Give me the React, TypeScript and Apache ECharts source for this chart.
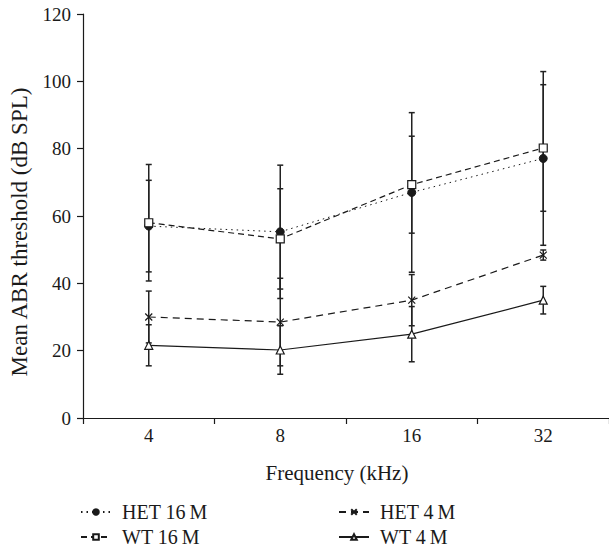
import React, { useEffect, useRef } from "react";
import * as echarts from "echarts";

const categories = ["4", "8", "16", "32"];
const het16Mean = [57, 55.3, 67, 77.1];
const het16Err = [13.6, 19.8, 23.7, 25.8];
const wt16Mean = [58, 53.2, 69.3, 80.2];
const wt16Err = [17.3, 14.9, 14.4, 18.8];
const het4Mean = [30, 28.5, 35, 48.4];
const het4Err = [7.7, 13, 7.6, 1.5];
const wt4Mean = [21.6, 20.2, 24.9, 35];
const wt4Err = [6.1, 7.2, 8.2, 4.1];
const yTicks = [0, 20, 40, 60, 80, 100, 120];
const seriesNames = ["HET 16\u2009M", "WT 16\u2009M", "HET 4\u2009M", "WT 4\u2009M"];

const FONT = "Liberation Serif";
const INK = "#1a1a1a";

function errData(mean: number[], err: number[]) {
  return mean.map((m, i) => [i, m - err[i], m + err[i]]);
}

function errSeries(mean: number[], err: number[]) {
  return {
    type: "custom",
    z: 1,
    silent: true,
    data: errData(mean, err),
    renderItem: (params: any, api: any) => {
      const x = api.value(0);
      const lo = api.coord([x, api.value(1)]);
      const hi = api.coord([x, api.value(2)]);
      const w = 3;
      const st = { stroke: "#222", lineWidth: 1.5 };
      return {
        type: "group",
        children: [
          { type: "line", shape: { x1: lo[0], y1: lo[1], x2: hi[0], y2: hi[1] }, style: st },
          { type: "line", shape: { x1: lo[0] - w, y1: lo[1], x2: lo[0] + w, y2: lo[1] }, style: st },
          { type: "line", shape: { x1: hi[0] - w, y1: hi[1], x2: hi[0] + w, y2: hi[1] }, style: st },
        ],
      };
    },
  };
}

function legendAt(name: string, left: number, top: number) {
  return {
    data: [name],
    orient: "horizontal",
    left,
    top,
    padding: 0,
    itemWidth: 30,
    itemHeight: 7,
    selectedMode: false,
    textStyle: { fontSize: 20, fontFamily: FONT, color: INK, padding: [0, 0, 0, 6] },
  };
}

export default function App() {
  const ref = useRef<HTMLDivElement>(null);
  useEffect(() => {
    document.body.style.margin = "0";
    document.body.style.overflow = "hidden";
    const chart = echarts.init(ref.current!, null, { renderer: "svg" });
    const lineBase = {
      type: "line",
      z: 3,
      symbolKeepAspect: true,
    };
    chart.setOption({
      animation: false,
      backgroundColor: "#ffffff",
      textStyle: { fontFamily: FONT },
      grid: { left: 83, top: 14, width: 527, height: 404 },
      xAxis: {
        type: "category",
        data: categories,
        boundaryGap: true,
        axisLine: { lineStyle: { color: INK, width: 1.2 } },
        axisTick: { show: true, length: 6, lineStyle: { color: INK, width: 1.2 } },
        axisLabel: { color: INK, fontSize: 19, fontFamily: FONT, margin: 8 },
        splitLine: { show: false },
      },
      yAxis: {
        type: "value",
        min: 0,
        max: 120,
        interval: 20,
        axisLine: { show: true, lineStyle: { color: INK, width: 1.2 } },
        axisTick: { show: true, length: 6, lineStyle: { color: INK, width: 1.2 } },
        axisLabel: {
          color: INK,
          fontSize: 19,
          fontFamily: FONT,
          margin: 12,
          formatter: (v: number) => (yTicks.includes(v) ? String(v) : ""),
        },
        splitLine: { show: false },
      },
      legend: [
        legendAt(seriesNames[0], 80, 502),
        legendAt(seriesNames[1], 80, 527),
        legendAt(seriesNames[2], 338, 502),
        legendAt(seriesNames[3], 338, 527),
      ],
      graphic: [
        {
          type: "text",
          x: 19,
          y: 232,
          rotation: Math.PI / 2,
          style: {
            text: "Mean ABR threshold (dB SPL)",
            fontFamily: FONT,
            fontSize: 23,
            fill: INK,
            align: "center",
            verticalAlign: "middle",
          },
        },
        {
          type: "text",
          x: 337,
          y: 473,
          style: {
            text: "Frequency (kHz)",
            fontFamily: FONT,
            fontSize: 21,
            fill: INK,
            align: "center",
            verticalAlign: "middle",
          },
        },
      ],
      series: [
        errSeries(het16Mean, het16Err),
        errSeries(wt16Mean, wt16Err),
        errSeries(het4Mean, het4Err),
        errSeries(wt4Mean, wt4Err),
        {
          ...lineBase,
          name: seriesNames[0],
          data: het16Mean,
          symbol: "circle",
          symbolSize: 8,
          lineStyle: { color: INK, width: 1, type: [1.5, 4] },
          itemStyle: { color: INK, borderColor: INK, borderWidth: 1 },
        },
        {
          ...lineBase,
          name: seriesNames[1],
          data: wt16Mean,
          symbol: "rect",
          symbolSize: 8,
          lineStyle: { color: INK, width: 1.2, type: [6, 4] },
          itemStyle: { color: "#ffffff", borderColor: INK, borderWidth: 1.2 },
        },
        {
          ...lineBase,
          name: seriesNames[2],
          data: het4Mean,
          symbol: "path://M0,0L10,10M10,0L0,10",
          symbolSize: 7,
          lineStyle: { color: INK, width: 1.2, type: [7, 5] },
          itemStyle: { color: "none", borderColor: INK, borderWidth: 1.2 },
        },
        {
          ...lineBase,
          name: seriesNames[3],
          data: wt4Mean,
          symbol: "triangle",
          symbolSize: 8,
          lineStyle: { color: INK, width: 1.2, type: "solid" },
          itemStyle: { color: "#ffffff", borderColor: INK, borderWidth: 1.2 },
        },
      ],
    });
    return () => chart.dispose();
  }, []);
  return <div ref={ref} style={{ width: 609, height: 552 }} />;
}
